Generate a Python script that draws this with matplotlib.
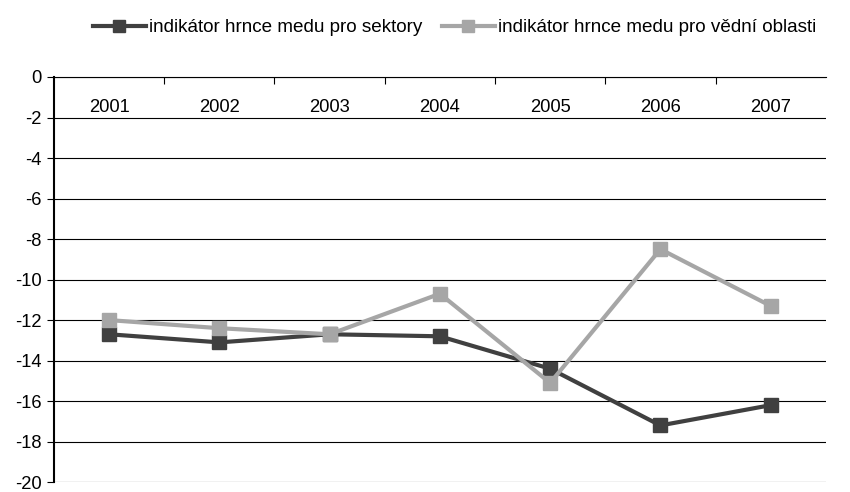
import matplotlib.pyplot as plt
import numpy as np

plt.rcParams['font.family'] = ['Liberation Sans', 'DejaVu Sans']
plt.rcParams['axes.unicode_minus'] = False

years = ['2001', '2002', '2003', '2004', '2005', '2006', '2007']
sektory = [-12.7, -13.1, -12.7, -12.8, -14.4, -17.2, -16.2]
oblasti = [-12.0, -12.4, -12.7, -10.7, -15.1, -8.5, -11.3]

fig = plt.figure(figsize=(8.5, 4.92), dpi=100)
ax = fig.add_axes([0.0635, 0.02, 0.908, 0.8235])

x = np.arange(len(years))
ax.plot(x, sektory, color='#404040', lw=3, marker='s', ms=10,
        label='indikátor hrnce medu pro sektory', zorder=3)
ax.plot(x, oblasti, color='#a6a6a6', lw=3, marker='s', ms=10,
        label='indikátor hrnce medu pro vědní oblasti', zorder=4)

ax.set_xlim(-0.5, len(years) - 0.5)
ax.set_ylim(-20, 0)
ax.set_yticks(np.arange(-20, 1, 2))
ax.yaxis.grid(True, color='black', lw=0.8)
ax.set_axisbelow(True)

ax.set_xticks(x)
ax.set_xticklabels(years)
ax.set_xticks(np.arange(0.5, len(years) - 0.5, 1), minor=True)
ax.tick_params(axis='x', which='major', top=True, labeltop=True, bottom=False,
               labelbottom=False, length=0, pad=-28, labelsize=13.2)
ax.tick_params(axis='x', which='minor', top=True, bottom=False,
               direction='in', length=5, width=0.8)
ax.tick_params(axis='y', labelsize=13.2, length=5, width=0.8, pad=4)

for s in ['right', 'bottom']:
    ax.spines[s].set_visible(False)
ax.spines['left'].set_linewidth(1.5)
ax.spines['top'].set_linewidth(0.8)

fig.legend(loc='center', bbox_to_anchor=(0.535, 0.944), ncol=2, frameon=False,
           fontsize=13.6, handlelength=2.8, handletextpad=0.2, columnspacing=1.0,
           markerscale=0.9)

fig.savefig('out.png', dpi=100)
